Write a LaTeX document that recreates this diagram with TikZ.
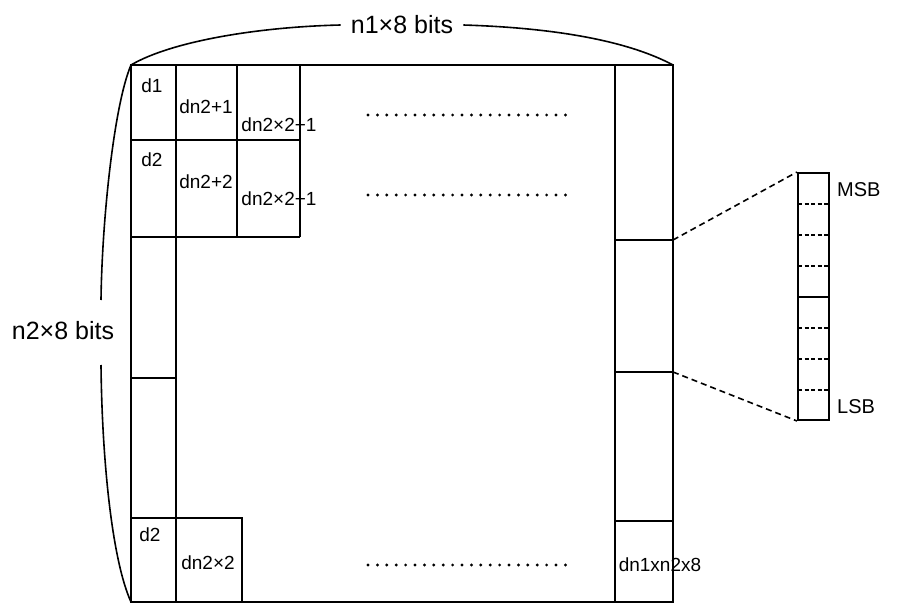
\documentclass[tikz,border=0pt]{standalone}
\usepackage{fontspec}
\setmainfont{Liberation Sans}
\usetikzlibrary{positioning}

\begin{document}
\begin{tikzpicture}[x=1pt, y=-1pt,
    frame/.style={line width=2.3pt},
    grid/.style={line width=1.6pt},
    divider/.style={line width=1.5pt, dash pattern=on 4pt off 2.5pt},
    cell/.style={font=\fontsize{19}{21}\selectfont, inner sep=0pt},
    side/.style={font=\fontsize{20}{23}\selectfont, inner sep=0pt, anchor=west},
    bits/.style={font=\fontsize{25}{28}\selectfont, inner xsep=10pt},
    dots/.style={line width=3.2pt, line cap=round, dash pattern=on 0pt off 9.4pt},
    zoomline/.style={line width=1.6pt, dash pattern=on 6pt off 4pt},
    curve/.style={line width=1.6pt}
  ]
  \useasboundingbox (0,0) rectangle (897,604);

  \coordinate (nw) at (131,65);
  \coordinate (ne) at (673,65);
  \coordinate (sw) at (131,602);
  \coordinate (se) at (673,602);
  \coordinate (r1) at (673,240);
  \coordinate (r2) at (673,372);

  \draw[grid] (176,65) -- (176,602);
  \draw[grid] (615,65) -- (615,602);
  \draw[grid] (131,140) -- (300,140);
  \draw[grid] (131,237) -- (300,237);
  \draw[grid] (237,65) -- (237,237);
  \draw[grid] (300,65) -- (300,237);
  \draw[grid] (131,378) -- (176,378);
  \draw[grid] (131,518) -- (242,518) -- (242,602);
  \draw[grid] (615,240) -- (r1);
  \draw[grid] (615,372) -- (r2);
  \draw[grid] (615,521) -- (673,521);
  \draw[frame] (nw) rectangle (se);

  \node[cell] (d1) at (152,86) {d1};
  \node[cell] (d2a) at (152,160) {d2};
  \node[cell] (d2b) at (150,535) {d2};
  \node[cell] (dn1) at (206,107) {dn2+1};
  \node[cell] (dn2) at (206,182) {dn2+2};
  \node[cell] (dnn1) at (279,125) {dn2×2+1};
  \node[cell] (dnn2) at (279,199) {dn2×2+1};
  \node[cell] (dnb) at (208,563) {dn2×2};
  \node[cell] (dlast) at (660,565) {dn1xn2x8};

  \draw[dots] (368,115) -- (573,115);
  \draw[dots] (368,195) -- (573,195);
  \draw[dots] (368,565) -- (570,565);

  \node[draw, line width=2pt, minimum width=31pt, minimum height=247pt, inner sep=0pt] (byte) at (813.5,296.5) {};
  \draw[grid] (798,297) -- (829,297);
  \foreach \y in {204,235,266,328,359,390}
    \draw[divider] (798,\y) -- (829,\y);
  \node[side] (msb) at (837,190) {MSB};
  \node[side] (lsb) at (837,407) {LSB};
  \draw[zoomline] (r1) -- (byte.north west);
  \draw[zoomline] (r2) -- (byte.south west);

  \node[bits] (wide) at (402,25) {n1×8 bits};
  \node[bits, inner sep=2pt] (high) at (63,331) {n2×8 bits};
  \coordinate (hightop) at (101,300);
  \coordinate (highbot) at (101,365);
  \draw[curve] (nw) .. controls (170,42) and (255,27) .. (wide.west);
  \draw[curve] (wide.east) .. controls (560,28) and (630,42) .. (ne);
  \draw[curve] (nw) .. controls (114,105) and (102,220) .. (hightop);
  \draw[curve] (highbot) .. controls (102,460) and (112,560) .. (sw);
\end{tikzpicture}
\end{document}
